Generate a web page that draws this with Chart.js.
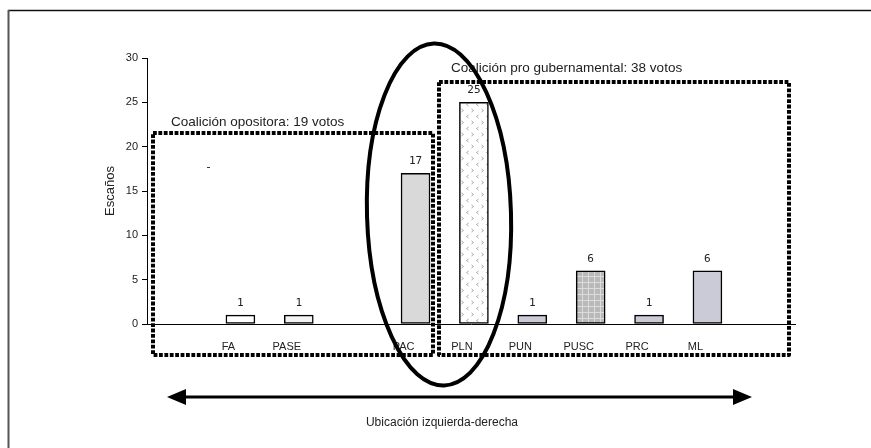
<!DOCTYPE html>
<html>
<head>
<meta charset="utf-8">
<script src="https://cdn.jsdelivr.net/npm/chart.js@4.4.0/dist/chart.umd.min.js"></script>
<style>
  html, body { margin: 0; padding: 0; background: #fff; }
  canvas { display: block; }
</style>
</head>
<body>
<canvas id="chart-seats" width="871" height="448"></canvas>
<script>
// Escaños por partido, ordenados de izquierda a derecha
const partidos = ['FA', 'PASE', '', 'PAC', 'PLN', 'PUN', 'PUSC', 'PRC', 'ML'];
const escanos = [1, 1, null, 17, 25, 1, 6, 1, 6];
const yTicks = [0, 5, 10, 15, 20, 25, 30];
const coaliciones = ['Coalición opositora: 19 votos', 'Coalición pro gubernamental: 38 votos'];
const ejeX = 'Ubicación izquierda-derecha';

// Patterns for PLN and PUSC bars
function chevronPattern() {
  const c = document.createElement('canvas');
  c.width = 10; c.height = 12;
  const g = c.getContext('2d');
  g.fillStyle = '#fff';
  g.fillRect(0, 0, 10, 12);
  g.strokeStyle = '#a8a8a8';
  g.lineWidth = 1;
  g.beginPath();
  // ">" on the left, "<" on the right, offset vertically
  g.moveTo(1.5, 1); g.lineTo(3.5, 2.5); g.lineTo(1.5, 4);
  g.moveTo(8.5, 7); g.lineTo(6.5, 8.5); g.lineTo(8.5, 10);
  g.stroke();
  return g.createPattern(c, 'repeat');
}

function gridPattern() {
  const c = document.createElement('canvas');
  c.width = 6; c.height = 6;
  const g = c.getContext('2d');
  g.fillStyle = '#b9b9b9';
  g.fillRect(0, 0, 6, 6);
  g.fillStyle = '#dcdcdc';
  g.fillRect(0, 0, 6, 1);
  g.fillRect(0, 0, 1, 6);
  return g.createPattern(c, 'repeat');
}

const fills = {
  FA: '#ffffff',
  PASE: '#f3f3f3',
  PAC: '#d9d9d9',
  PLN: chevronPattern(),
  PUN: '#cbcbd7',
  PUSC: gridPattern(),
  PRC: '#cbcbd7',
  ML: '#cbcbd7'
};

const points = [];
const barColors = [];
partidos.forEach((p, i) => {
  if (escanos[i] === null) return;
  points.push({ x: i + 1, y: escanos[i] });
  barColors.push(fills[p]);
});

// Value labels above each bar
const valueLabels = {
  id: 'valueLabels',
  afterDatasetsDraw(chart) {
    const ctx = chart.ctx;
    const meta = chart.getDatasetMeta(0);
    ctx.save();
    ctx.font = '11px "DejaVu Sans Mono", monospace';
    ctx.fillStyle = '#222';
    ctx.textAlign = 'center';
    ctx.textBaseline = 'middle';
    meta.data.forEach((bar, i) => {
      ctx.fillText(String(points[i].y), bar.x, bar.y - 12);
    });
    ctx.restore();
  }
};

function dottedBox(ctx, x1, y1, x2, y2) {
  ctx.save();
  ctx.strokeStyle = '#000';
  ctx.lineWidth = 4;
  ctx.setLineDash([3.8, 1.6]);
  ctx.lineJoin = 'round';
  ctx.strokeRect(x1, y1, x2 - x1, y2 - y1);
  ctx.restore();
}

// Frame, coalition boxes, ellipse and axis arrow
const overlay = {
  id: 'overlay',
  afterDraw(chart) {
    const ctx = chart.ctx;
    ctx.save();

    // outer frame (cut off at right and bottom)
    ctx.strokeStyle = '#111';
    ctx.lineWidth = 1.5;
    ctx.beginPath();
    ctx.moveTo(8, 10.5); ctx.lineTo(871, 10.5);
    ctx.stroke();
    ctx.strokeStyle = '#555';
    ctx.lineWidth = 2;
    ctx.beginPath();
    ctx.moveTo(8.5, 10); ctx.lineTo(8.5, 448);
    ctx.stroke();

    // coalition boxes
    dottedBox(ctx, 153, 133, 433, 355);
    dottedBox(ctx, 439, 82, 789, 355);

    ctx.font = '13.5px "Liberation Sans Narrow", "Liberation Sans", sans-serif';
    ctx.fillStyle = '#222';
    ctx.textAlign = 'left';
    ctx.textBaseline = 'middle';
    ctx.fillText(coaliciones[0], 171, 122);
    ctx.fillText(coaliciones[1], 451, 68);

    // stray mark
    ctx.strokeStyle = '#333';
    ctx.lineWidth = 1;
    ctx.beginPath();
    ctx.moveTo(207, 167.5); ctx.lineTo(210, 167.5);
    ctx.stroke();

    // ellipse round PAC / PLN
    ctx.strokeStyle = '#000';
    ctx.lineWidth = 4;
    ctx.beginPath();
    ctx.ellipse(439, 214.5, 72, 171, -0.03, 0, Math.PI * 2);
    ctx.stroke();

    // left-right arrow
    ctx.lineWidth = 3;
    ctx.beginPath();
    ctx.moveTo(182, 397); ctx.lineTo(738, 397);
    ctx.stroke();
    ctx.fillStyle = '#000';
    ctx.beginPath();
    ctx.moveTo(167, 397); ctx.lineTo(186, 389); ctx.lineTo(186, 405); ctx.closePath();
    ctx.fill();
    ctx.beginPath();
    ctx.moveTo(752, 397); ctx.lineTo(733, 389); ctx.lineTo(733, 405); ctx.closePath();
    ctx.fill();

    ctx.font = '12px "Liberation Sans Narrow", "Liberation Sans", sans-serif';
    ctx.fillStyle = '#222';
    ctx.textAlign = 'center';
    ctx.fillText(ejeX, 442, 423);

    ctx.restore();
  }
};

const ctx = document.getElementById('chart-seats');
const chart = new Chart(ctx, {
  type: 'bar',
  data: {
    datasets: [{
      data: points,
      backgroundColor: barColors,
      borderColor: '#000',
      borderWidth: 1.5,
      borderSkipped: false,
      barThickness: 29
    }]
  },
  options: {
    responsive: false,
    animation: false,
    layout: { padding: { left: 0, right: 76, top: 58, bottom: 0 } },
    plugins: {
      legend: { display: false },
      tooltip: { enabled: false }
    },
    scales: {
      x: {
        type: 'linear',
        offset: false,
        min: -0.6,
        max: 10.5,
        afterBuildTicks: s => { s.ticks = partidos.map((p, i) => ({ value: i + 1 })); },
        afterFit: s => { s.height = 124; },
        grid: { display: false, drawTicks: false, offset: false },
        border: { color: '#000', width: 1 },
        ticks: {
          autoSkip: false,
          maxRotation: 0,
          padding: 16,
          labelOffset: -12,
          color: '#222',
          font: { family: '"Liberation Sans Narrow", "Liberation Sans", sans-serif', size: 11 },
          callback: v => partidos[v - 1]
        }
      },
      y: {
        min: 0,
        max: 30,
        afterBuildTicks: s => { s.ticks = yTicks.map(v => ({ value: v })); },
        afterFit: s => { s.width = 147; },
        grid: { drawOnChartArea: false, tickLength: 5, color: '#000' },
        border: { color: '#000', width: 1 },
        ticks: {
          padding: 4,
          color: '#222',
          font: { family: '"Liberation Sans", Arial, sans-serif', size: 11 }
        },
        title: {
          display: true,
          text: 'Escaños',
          color: '#222',
          padding: { top: 103, bottom: 0 },
          font: { family: '"Liberation Sans", Arial, sans-serif', size: 13 }
        }
      }
    }
  },
  plugins: [valueLabels, overlay]
});
</script>
</body>
</html>
